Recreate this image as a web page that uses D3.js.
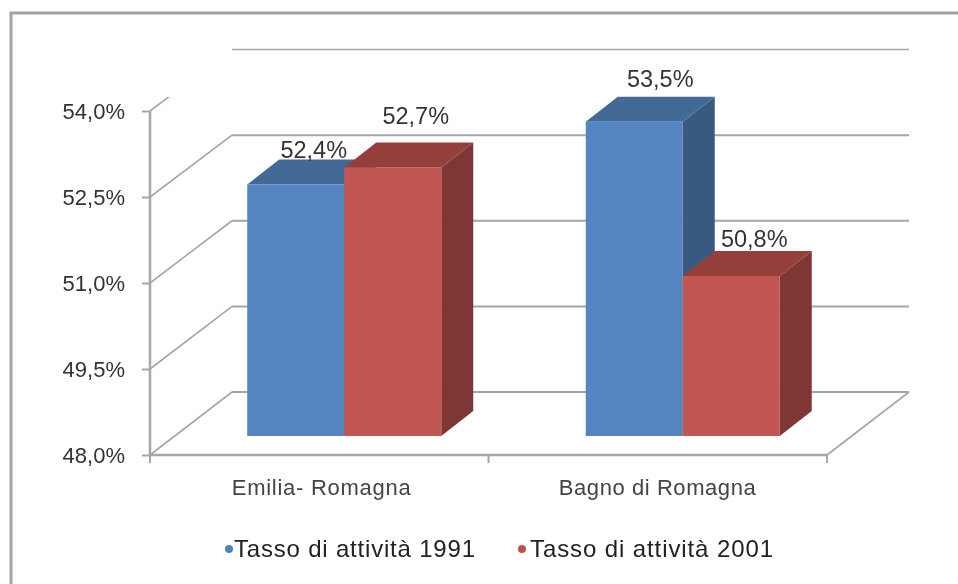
<!DOCTYPE html>
<html>
<head>
    <meta charset="utf-8">
    <title>Tasso di attività</title>
    <style>
        html, body { margin: 0; padding: 0; background: #fff; }
        svg { display: block; filter: blur(0.45px); }
        text { font-family: "Liberation Sans", Arial, sans-serif; }
    </style>
</head>
<body>
<div class="chart-container"></div>
<script src="https://d3js.org/d3.v7.min.js"></script>
<script>
    var categories = ['Emilia- Romagna', 'Bagno di Romagna'];
    var seriesNames = ['Tasso di attività 1991', 'Tasso di attività 2001'];
    var values1991 = [52.4, 53.5];
    var values2001 = [52.7, 50.8];
    var yTickValues = [48, 49.5, 51, 52.5, 54];

    var width = 958, height = 584;
    var gridColor = '#a6a6a6';

    // front plane of the floor, and how far the back wall sits from it
    var plotLeft = 150, plotRight = 827, plotBottom = 455, plotTop = 111;
    var wallDx = 82;
    // bars stand a bit behind the front edge and have their own depth
    var barDx = 25;
    var depthDx = 32, depthDy = -25;

    var colors = [
        {front: '#5585c0', top: '#436997', side: '#385a80', dot: '#4f81bd'},
        {front: '#c15652', top: '#953f3c', side: '#7f3735', dot: '#c0504d'}
    ];

    // the fake perspective makes each depth plane a slightly different height
    var y = d3.scaleLinear().domain([48, 54]).range([plotBottom, plotTop]);
    var yWall = d3.scaleLinear().domain([48, 54]).range([392, 49.5]);
    var yBar = d3.scaleLinear().domain([48, 54]).range([436, 93.1]);

    var x0 = d3.scaleBand()
            .domain(categories)
            .range([plotLeft, plotRight])
            .paddingInner(0.4269)
            .paddingOuter(0.2134);

    var x1 = d3.scaleBand()
            .domain(d3.range(seriesNames.length))
            .range([0, x0.bandwidth()]);

    var itLocale = d3.formatLocale({decimal: ',', thousands: '.', grouping: [3], currency: ['', '€']});
    var pct = itLocale.format('.1f');

    var svg = d3.select('.chart-container').append('svg')
            .attr('width', width)
            .attr('height', height);

    // outer frame, runs off the right and bottom of the picture
    svg.append('path')
            .attr('d', d3.line()([[11, height + 5], [11, 13], [width + 5, 13]]))
            .style('fill', 'none')
            .style('stroke', '#a3a3a3')
            .style('stroke-width', 3);

    svg.append('clipPath').attr('id', 'wall-clip')
            .append('rect')
            .attr('x', 0).attr('y', 97)
            .attr('width', width).attr('height', height);

    // back wall gridlines and the slanted lines on the side wall
    var gGrid = svg.append('g').attr('class', 'grid');

    gGrid.selectAll('line.back').data(yTickValues).enter().append('line')
            .attr('class', 'back')
            .attr('x1', plotLeft + wallDx)
            .attr('x2', plotRight + wallDx)
            .attr('y1', function (d) { return yWall(d); })
            .attr('y2', function (d) { return yWall(d); })
            .style('stroke', gridColor)
            .style('stroke-width', function (d) { return d === 54 ? 1.5 : 2; });

    gGrid.append('g').attr('clip-path', 'url(#wall-clip)')
            .selectAll('line').data(yTickValues).enter().append('line')
            .attr('x1', plotLeft)
            .attr('x2', plotLeft + wallDx)
            .attr('y1', function (d) { return y(d); })
            .attr('y2', function (d) { return yWall(d); })
            .style('stroke', gridColor)
            .style('stroke-width', 1.6);

    gGrid.append('line')
            .attr('x1', plotRight)
            .attr('x2', plotRight + wallDx)
            .attr('y1', y(48))
            .attr('y2', yWall(48))
            .style('stroke', gridColor)
            .style('stroke-width', 1.6);

    // axes
    var yAxis = d3.axisLeft(y)
            .tickValues(yTickValues)
            .tickSize(8)
            .tickPadding(17)
            .tickFormat(function (d) { return pct(d) + '%'; });

    var gY = svg.append('g')
            .attr('transform', 'translate(' + plotLeft + ',0)')
            .call(yAxis);
    gY.selectAll('.domain').attr('d', 'M0,' + plotTop + 'V' + plotBottom)
            .style('stroke', gridColor).style('stroke-width', 2.5);
    gY.selectAll('.tick line').style('stroke', gridColor).style('stroke-width', 2);
    gY.selectAll('.tick text')
            .style('font-size', '22px')
            .style('fill', '#333');

    var xAxis = d3.axisBottom(x0).tickSize(0).tickPadding(0);
    var gX = svg.append('g')
            .attr('transform', 'translate(0,' + plotBottom + ')')
            .call(xAxis);
    gX.selectAll('.domain').attr('d', 'M' + plotLeft + ',0H' + plotRight)
            .style('stroke', gridColor).style('stroke-width', 2.5);
    gX.selectAll('.tick text')
            .attr('x', function (d, i) { return [2, -0.5][i]; })
            .attr('y', 40)
            .attr('dy', 0)
            .attr('textLength', function (d, i) { return [179, 197][i]; })
            .attr('lengthAdjust', 'spacing')
            .style('font-size', '22px')
            .style('fill', '#444');

    // category separators on the floor edge
    gX.selectAll('line.sep')
            .data([plotLeft, (plotLeft + plotRight) / 2, plotRight]).enter().append('line')
            .attr('class', 'sep')
            .attr('x1', function (d) { return d; })
            .attr('x2', function (d) { return d; })
            .attr('y1', 0)
            .attr('y2', 8)
            .style('stroke', gridColor)
            .style('stroke-width', 2);

    // bars, series by series so the red overlaps the blue
    function drawSeries(values, i) {
        var g = svg.append('g').attr('class', 'series-' + i);
        var c = colors[i];
        var base = yBar(48);

        function xl(k) { return x0(categories[k]) + x1(i) + barDx; }
        function xr(k) { return xl(k) + x1.bandwidth(); }
        function yt(k) { return yBar(values[k]); }

        g.selectAll('path.side').data(values).enter().append('path')
                .attr('class', 'side')
                .attr('d', function (d, k) {
                    return d3.line()([
                        [xr(k), yt(k)],
                        [xr(k) + depthDx, yt(k) + depthDy],
                        [xr(k) + depthDx, base + depthDy],
                        [xr(k), base]
                    ]) + 'Z';
                })
                .style('fill', c.side);

        g.selectAll('path.top').data(values).enter().append('path')
                .attr('class', 'top')
                .attr('d', function (d, k) {
                    return d3.line()([
                        [xl(k), yt(k)],
                        [xl(k) + depthDx, yt(k) + depthDy],
                        [xr(k) + depthDx, yt(k) + depthDy],
                        [xr(k), yt(k)]
                    ]) + 'Z';
                })
                .style('fill', c.top);

        g.selectAll('rect').data(values).enter().append('rect')
                .attr('x', function (d, k) { return xl(k); })
                .attr('y', function (d, k) { return yt(k); })
                .attr('width', x1.bandwidth())
                .attr('height', function (d, k) { return base - yt(k); })
                .style('fill', c.front);
    }

    drawSeries(values1991, 0);
    drawSeries(values2001, 1);

    // the value labels were dragged by hand in the original, so they get nudges
    var labelNudges = [
        [[18, -2], [26, -10]],
        [[23, -18.5], [23, -4]]
    ];

    [values1991, values2001].forEach(function (values, i) {
        svg.append('g').selectAll('text').data(values).enter().append('text')
                .attr('x', function (d, k) {
                    return x0(categories[k]) + x1(i) + barDx + x1.bandwidth() / 2 + labelNudges[i][k][0];
                })
                .attr('y', function (d, k) {
                    return yBar(d) + depthDy + labelNudges[i][k][1];
                })
                .attr('text-anchor', 'middle')
                .style('font-size', '23.5px')
                .style('fill', '#333')
                .text(function (d) { return pct(d) + '%'; });
    });

    // legend
    var legendX = [234, 530], legendDotX = [229, 522], legendY = 557;
    var gLegend = svg.append('g').attr('class', 'legend');

    gLegend.selectAll('circle').data(seriesNames).enter().append('circle')
            .attr('cx', function (d, i) { return legendDotX[i]; })
            .attr('cy', legendY - 8)
            .attr('r', 4)
            .style('fill', function (d, i) { return colors[i].dot; });

    gLegend.selectAll('text').data(seriesNames).enter().append('text')
            .attr('x', function (d, i) { return legendX[i]; })
            .attr('y', legendY)
            .style('font-size', '24px')
            .style('fill', '#222')
            .attr('textLength', function (d, i) { return [241, 243][i]; })
            .attr('lengthAdjust', 'spacing')
            .text(function (d) { return d; });
</script>
</body>
</html>
